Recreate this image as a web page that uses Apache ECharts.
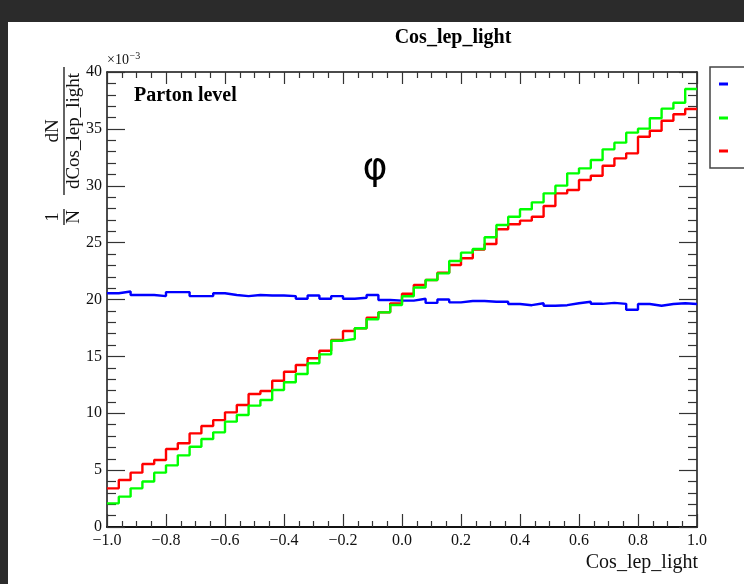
<!DOCTYPE html>
<html>
<head>
<meta charset="utf-8">
<title>Cos_lep_light</title>
<script src="https://cdn.jsdelivr.net/npm/echarts@6/dist/echarts.min.js"></script>
<style>
  html, body { margin: 0; padding: 0; background: #2b2b2b; }
  #chart { width: 744px; height: 584px; }
</style>
</head>
<body>
<div id="chart"></div>
<script>
// Histogram binning of cos(lepton, light jet): 50 bins over [-1, 1]
const binLow = -1.0;
const binHigh = 1.0;
const nBins = 50;

// Normalised distributions, in units of 10^-3
const blueValues = [
  20.55, 20.7, 20.4, 20.4, 20.3, 20.65, 20.65, 20.3, 20.3, 20.55,
  20.4, 20.3, 20.4, 20.35, 20.35, 20.3, 20.07, 20.35, 20.07, 20.3,
  20.07, 20.15, 20.4, 19.96, 19.9, 19.9, 20.07, 19.7, 20.0, 19.75,
  19.87, 19.87, 19.8, 19.8, 19.6, 19.5, 19.67, 19.45, 19.5, 19.67,
  19.8, 19.62, 19.7, 19.62, 19.1, 19.6, 19.45, 19.6, 19.67, 19.6
];
const greenValues = [
  2.08, 2.67, 3.4, 4.0, 4.78, 5.42, 6.3, 7.06, 7.74, 8.32,
  9.26, 9.85, 10.67, 11.16, 12.04, 12.72, 13.45, 14.39, 15.18, 16.38,
  16.53, 17.47, 18.26, 18.87, 19.52, 20.28, 21.05, 21.71, 22.3, 23.38,
  24.12, 24.44, 25.47, 26.55, 27.28, 27.93, 28.54, 29.33, 30.01, 31.09,
  31.53, 32.26, 33.2, 33.79, 34.67, 35.02, 35.93, 36.78, 37.3, 38.5
];
const redValues = [
  3.4, 4.13, 4.78, 5.54, 5.89, 6.86, 7.36, 8.23, 8.88, 9.4,
  10.08, 10.73, 11.69, 11.96, 12.86, 13.65, 14.24, 14.83, 15.5, 16.44,
  17.23, 17.47, 18.4, 18.87, 19.66, 20.5, 21.27, 21.71, 22.36, 23.03,
  23.62, 24.4, 24.88, 26.17, 26.61, 26.93, 27.28, 28.22, 29.33, 29.63,
  30.51, 30.88, 31.76, 32.41, 32.85, 34.31, 34.84, 35.72, 36.28, 36.75
];

// Axis settings
const xTickStep = 0.2;
const yMin = 0, yMax = 40, yTickStep = 5;

const serif = '"Liberation Serif", "Times New Roman", serif';
const MINUS = '\u2212';

// Turn bin contents into step-line points at bin edges
function histPoints(values) {
  const w = (binHigh - binLow) / nBins;
  const pts = values.map((v, i) => [binLow + i * w, v]);
  pts.push([binHigh, values[values.length - 1]]);
  return pts;
}

function fmtX(v) {
  const s = Math.abs(v).toFixed(1);
  return (v < -1e-9 ? MINUS : '') + s;
}

const chart = echarts.init(document.getElementById('chart'), null, { renderer: 'canvas' });

const frameLine = { show: true, onZero: false, lineStyle: { color: '#111', width: 1.5 } };
const tickStyle = { color: '#333', width: 1.2 };

const option = {
  backgroundColor: '#2b2b2b',
  animation: false,
  grid: { left: 107, top: 72, right: 47, bottom: 57, containLabel: false },
  xAxis: [
    {
      type: 'value', min: binLow, max: binHigh, interval: xTickStep,
      position: 'bottom',
      axisLine: { show: true, onZero: false, lineStyle: { color: '#111', width: 2 } },
      axisTick: { show: true, inside: true, length: 13, lineStyle: tickStyle },
      minorTick: { show: true, splitNumber: 4, length: 6, lineStyle: tickStyle },
      splitLine: { show: false },
      axisLabel: {
        margin: 6, color: '#111', fontFamily: serif, fontSize: 16,
        formatter: fmtX
      }
    },
    {
      type: 'value', min: binLow, max: binHigh, interval: xTickStep,
      position: 'top',
      axisLine: frameLine,
      axisTick: { show: true, inside: true, length: 12, lineStyle: tickStyle },
      minorTick: { show: true, splitNumber: 4, length: 6, lineStyle: tickStyle },
      splitLine: { show: false },
      axisLabel: { show: false }
    }
  ],
  yAxis: [
    {
      type: 'value', min: yMin, max: yMax, interval: yTickStep,
      position: 'left',
      axisLine: frameLine,
      axisTick: { show: true, inside: true, length: 18, lineStyle: tickStyle },
      minorTick: { show: true, splitNumber: 5, length: 9, lineStyle: tickStyle },
      splitLine: { show: false },
      axisLabel: { margin: 5, color: '#111', fontFamily: serif, fontSize: 16 }
    },
    {
      type: 'value', min: yMin, max: yMax, interval: yTickStep,
      position: 'right',
      axisLine: frameLine,
      axisTick: { show: true, inside: true, length: 18, lineStyle: tickStyle },
      minorTick: { show: true, splitNumber: 5, length: 9, lineStyle: tickStyle },
      splitLine: { show: false },
      axisLabel: { show: false }
    }
  ],
  series: [
    {
      name: 'blue', type: 'line', step: 'end', symbol: 'none',
      data: histPoints(blueValues),
      lineStyle: { color: '#0000ff', width: 2.4 }, z: 3
    },
    {
      name: 'red', type: 'line', step: 'end', symbol: 'none',
      data: histPoints(redValues),
      lineStyle: { color: '#ff0000', width: 2.4 }, z: 4
    },
    {
      name: 'green', type: 'line', step: 'end', symbol: 'none',
      data: histPoints(greenValues),
      lineStyle: { color: '#00ff00', width: 2.4 }, z: 5
    }
  ],
  graphic: [
    // canvas panel
    { type: 'rect', z: -10, silent: true,
      shape: { x: 8, y: 22, width: 736, height: 562 },
      style: { fill: '#ffffff' } },
    // histogram title
    { type: 'text', x: 453, y: 38, z: 10,
      style: { text: 'Cos_lep_light', font: 'bold 20px ' + serif, fill: '#000',
               textAlign: 'center', textVerticalAlign: 'middle' } },
    // axis exponent
    { type: 'text', x: 107, y: 67, z: 10,
      style: { text: '\u00d710', font: '14px ' + serif, fill: '#111',
               textAlign: 'left', textVerticalAlign: 'bottom' } },
    { type: 'text', x: 129.5, y: 61, z: 10,
      style: { text: MINUS + '3', font: '10px ' + serif, fill: '#111',
               textAlign: 'left', textVerticalAlign: 'bottom' } },
    // annotations
    { type: 'text', x: 134, y: 96, z: 10,
      style: { text: 'Parton level', font: 'bold 20px ' + serif, fill: '#000',
               textAlign: 'left', textVerticalAlign: 'middle' } },
    { type: 'text', x: 375, y: 169, z: 10,
      style: { text: '\u03c6', font: '38px "DejaVu Sans", sans-serif', fill: '#000',
               textAlign: 'center', textVerticalAlign: 'middle' } },
    // x axis title
    { type: 'text', x: 698, y: 563, z: 10,
      style: { text: 'Cos_lep_light', font: '20px ' + serif, fill: '#111',
               textAlign: 'right', textVerticalAlign: 'middle' } },
    // y axis title: 1/N dN/dCos_lep_light (rotated)
    { type: 'line', z: 10,
      shape: { x1: 64, y1: 67, x2: 64, y2: 195 },
      style: { stroke: '#111', lineWidth: 1.3 } },
    { type: 'text', x: 63, y: 131, rotation: Math.PI / 2, z: 10,
      style: { text: 'dN', font: '19px ' + serif, fill: '#111',
               textAlign: 'center', textVerticalAlign: 'bottom' } },
    { type: 'text', x: 65, y: 131, rotation: Math.PI / 2, z: 10,
      style: { text: 'dCos_lep_light', font: '19px ' + serif, fill: '#111',
               textAlign: 'center', textVerticalAlign: 'top' } },
    { type: 'line', z: 10,
      shape: { x1: 64, y1: 209, x2: 64, y2: 225 },
      style: { stroke: '#111', lineWidth: 1.3 } },
    { type: 'text', x: 63, y: 217, rotation: Math.PI / 2, z: 10,
      style: { text: '1', font: '19px ' + serif, fill: '#111',
               textAlign: 'center', textVerticalAlign: 'bottom' } },
    { type: 'text', x: 65, y: 217, rotation: Math.PI / 2, z: 10,
      style: { text: 'N', font: '19px ' + serif, fill: '#111',
               textAlign: 'center', textVerticalAlign: 'top' } },
    // legend box
    { type: 'rect', z: 10,
      shape: { x: 710, y: 67, width: 60, height: 101 },
      style: { fill: '#fff', stroke: '#444', lineWidth: 1.5 } },
    { type: 'line', z: 11, shape: { x1: 719, y1: 84, x2: 728, y2: 84 },
      style: { stroke: '#0000ff', lineWidth: 3 } },
    { type: 'line', z: 11, shape: { x1: 719, y1: 118, x2: 728, y2: 118 },
      style: { stroke: '#00ff00', lineWidth: 3 } },
    { type: 'line', z: 11, shape: { x1: 719, y1: 151, x2: 728, y2: 151 },
      style: { stroke: '#ff0000', lineWidth: 3 } }
  ]
};

chart.setOption(option);
</script>
</body>
</html>
